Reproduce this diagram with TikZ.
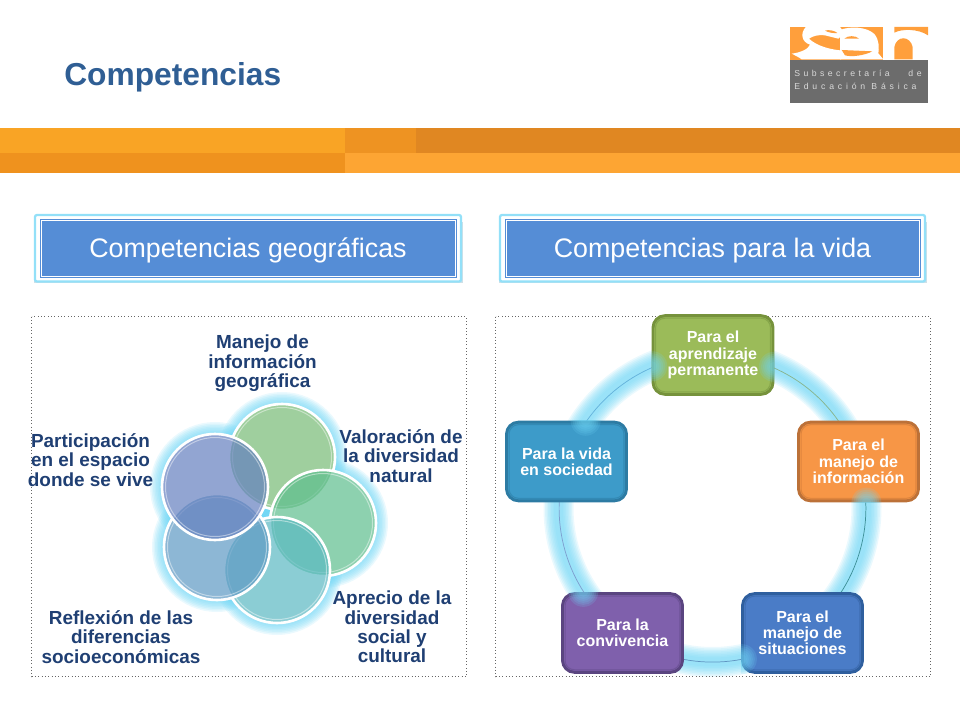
\documentclass[tikz,border=0pt]{standalone}
\usepackage{fontspec}
\setmainfont{Liberation Sans}
\usetikzlibrary{calc,backgrounds}
\definecolor{bandA}{HTML}{F9A425}
\definecolor{bandB}{HTML}{EE9322}
\definecolor{bandC}{HTML}{E08722}
\definecolor{bandD}{HTML}{EF921E}
\definecolor{bandE}{HTML}{FDA533}
\definecolor{titleblue}{HTML}{2F5E94}
\definecolor{labelblue}{HTML}{1F3F73}
\definecolor{headblue}{HTML}{558DD6}
\definecolor{glowc}{HTML}{6FD6F5}
\definecolor{logoor}{HTML}{FF9F3C}
\definecolor{logogr}{HTML}{6C6C6C}
\definecolor{cA}{HTML}{77BC75}
\definecolor{cB}{HTML}{5DBE8E}
\definecolor{cC}{HTML}{5BB9C2}
\definecolor{cD}{HTML}{5E99C4}
\definecolor{cE}{HTML}{6480BF}
\definecolor{bxA}{HTML}{9BBB59}\definecolor{bxAd}{HTML}{76923C}\definecolor{bxAm}{HTML}{86A64A}
\definecolor{bxB}{HTML}{F79646}\definecolor{bxBd}{HTML}{BC7138}\definecolor{bxBm}{HTML}{DF853D}
\definecolor{bxC}{HTML}{4A7CC7}\definecolor{bxCd}{HTML}{2F5F9E}\definecolor{bxCm}{HTML}{3E6DB2}
\definecolor{bxD}{HTML}{7F60AC}\definecolor{bxDd}{HTML}{5A4580}\definecolor{bxDm}{HTML}{6E5398}
\definecolor{bxE}{HTML}{3D9BC9}\definecolor{bxEd}{HTML}{2D7BA3}\definecolor{bxEm}{HTML}{338AB5}
\tikzset{
  x=.75pt,y=-.75pt,
  panel/.style={draw=black!60,line width=.5pt,dotted},
  lbl/.style={font=\fontsize{14.2}{14.6}\selectfont\bfseries,text=labelblue,align=center,inner sep=0pt},
  headtext/.style={font=\fontsize{20.1}{24}\selectfont,text=white,inner sep=0pt},
  logotext/.style={font=\fontsize{6.5}{7}\selectfont,text=white!85!black,anchor=base west,inner sep=0pt},
  cyclebox/.style={rounded corners=9pt,minimum width=90pt,minimum height=59pt,line width=2.2pt,
    font=\fontsize{12}{12.2}\selectfont\bfseries,text=white,align=center,inner sep=0pt},
  innerline/.style={rounded corners=7pt,line width=.8pt},
  cycleline/.style={line width=.55pt,opacity=.6,bend left=36,looseness=.94},
}
\newcommand{\softglow}[2]{%
  \foreach \w in {#2}{\draw[glowc,opacity=.14,line width=\w*.75pt] #1;}}
\newcommand{\cyc}[7]{% name x y fill dark mid text
  \node[cyclebox,fill=#4,draw=#5] (#1) at (#2,#3) {#7};
  \draw[innerline,draw=#6] ($(#1.north west)+(4,4)$) rectangle ($(#1.south east)+(-4,-4)$);}
\newcommand{\circlefill}[4]{%
  \node[circle,minimum size=106*.75pt,inner sep=0pt,fill=#4,fill opacity=.7] (#1) at (#2,#3) {};
  \draw[white,line width=2.6*.75pt] (#2,#3) circle[radius=53];
  \draw[white,opacity=.45,line width=.75pt] (#2,#3) circle[radius=49.5];}
\newcommand{\arcglow}[2]{%
  \softglow{(712.5,508)++(#1:154) arc[start angle=#1,end angle=#2,radius=154]}{30,27,24,21,18,15,12,9}}
\newcommand{\boxpatch}[2]{%
  \begin{scope}
    \clip (#1.south west) rectangle (#1.north east);
    \foreach \r in {15,13,11,9,7,5}{\fill[glowc,opacity=.17] (712.5,508)++(#2:154) circle[radius=\r];}
  \end{scope}}
\begin{document}
\begin{tikzpicture}
\useasboundingbox (0,0) rectangle (960,720);
% band
\fill[bandA] (0,128) rectangle (345,153);
\fill[bandB] (345,128) rectangle (416,153);
\fill[bandC] (416,128) rectangle (960,153);
\fill[bandD] (0,153) rectangle (345,173);
\fill[bandE] (345,153) rectangle (960,173);
% title
\node[font=\fontsize{23.8}{28}\selectfont\bfseries,text=titleblue,anchor=base west,inner sep=0pt] (title) at (64,86) {Competencias};
% logo
\fill[logoor] (790,27) rectangle (883,60);
\fill[logogr] (790,60.5) rectangle (928,103);
\begin{scope}[shift={(785,22)},x=.25pt,y=-.25pt]
  \fill[white] (62,15) -- (165,15) .. controls (178,25) and (172,42) .. (160,50) -- (120,40) .. controls (95,38) and (85,42) .. (72,50) .. controls (95,72) and (135,82) .. (165,85) -- (168,112) -- (50,112) .. controls (40,105) and (30,100) .. (20,95) .. controls (45,92) and (70,82) .. (75,68) .. controls (50,60) and (45,35) .. (62,15) -- cycle;
  \fill[white] (165,24) .. controls (195,12) and (245,14) .. (268,36) .. controls (284,55) and (282,80) .. (280,94) -- (295,112) -- (165,112) -- cycle;
  \fill[logoor] (120,26) .. controls (130,22) and (150,26) .. (157,33) .. controls (145,34) and (130,32) .. (120,26) -- cycle;
  \fill[logoor] (178,50) .. controls (188,40) and (212,40) .. (222,50) -- cycle;
  \fill[logoor] (170,84) -- (262,88) .. controls (240,100) and (200,106) .. (180,100) -- cycle;
  \fill[logoor] (328,15) -- (429,15) -- (429,40) .. controls (400,20) and (350,20) .. (328,32) -- cycle;
  \fill[logoor] (328,112) -- (328,75) .. controls (335,40) and (375,40) .. (383,75) -- (383,112) -- cycle;
\end{scope}
\node[logotext] (logoa) at (794,77) {\addfontfeature{LetterSpace=40}Subsecretaría\hspace{14pt}de};
\node[logotext] (logob) at (794,90) {\addfontfeature{LetterSpace=44}Educación Básica};
% headers
\foreach \xa/\xb in {35/461,500/925}{
  \fill[black!45!cyan!40!white,opacity=.55] (\xa-1,222) rectangle (\xb+1.5,283.5);
  \draw[glowc!75!white,line width=1.7pt,rounded corners=1.5pt,fill=white] (\xa,215) rectangle (\xb,281.5);
  \fill[headblue] (\xa+4.5,219) rectangle (\xb-4,278);
  \draw[white,line width=.5pt] (\xa+6,220.5) rectangle (\xb-5.5,276.5);
}
\node[headtext] (heada) at (248,250.5) {Competencias geográficas};
\node[headtext] (headb) at (712.5,250.5) {Competencias para la vida};
% panels
\draw[panel] (31.5,316.5) rectangle (466.5,676.5);
\draw[panel] (495.5,316.5) rectangle (930.5,676.5);
% left diagram
\foreach \x/\y in {282/457,323/523,277/570,217/547,215/487}{
  \softglow{(\x,\y) circle[radius=54]}{22,19,16,13,10,7,4}
}
\foreach \x/\y in {282/457,323/523,277/570,217/547,215/487}{
  \fill[white] (\x,\y) circle[radius=54];
}
\circlefill{ca}{282}{457}{cA}
\circlefill{cb}{323}{523}{cB}
\circlefill{cc}{277}{570}{cC}
\circlefill{cd}{217}{547}{cD}
\circlefill{ce}{215}{487}{cE}
\node[lbl] (la) at (262.5,363.5) {Manejo de\\información\\geográfica};
\node[lbl] (lb) at (401,456) {Valoración de\\la diversidad\\natural};
\node[lbl] (lc) at (392,627) {Aprecio de la\\diversidad\\social y\\cultural};
\node[lbl] (ld) at (121,637) {Reflexión de las\\diferencias\\socioeconómicas};
\node[lbl] (le) at (90.5,460) {Participación\\en el espacio\\donde se vive};
% right diagram
\cyc{ba}{713}{355}{bxA}{bxAd}{bxAm}{Para el\\aprendizaje\\permanente}
\cyc{bb}{858.5}{461.5}{bxB}{bxBd}{bxBm}{Para el\\manejo de\\información}
\cyc{bc}{802.5}{633}{bxC}{bxCd}{bxCm}{Para el\\manejo de\\situaciones}
\cyc{bd}{622.5}{633}{bxD}{bxDd}{bxDm}{Para la\\convivencia}
\cyc{be}{566.5}{461.5}{bxE}{bxEd}{bxEm}{Para la vida\\en sociedad}
\begin{scope}[on background layer]
  \arcglow{-75}{-25}
  \arcglow{-12}{40}
  \arcglow{68}{108}
  \arcglow{135}{190}
  \arcglow{205}{255}
  \draw[cycleline,draw=bxA!80!black] (ba.center) to (bb.center);
  \draw[cycleline,draw=teal!70!black] (bb.center) to (bc.center);
  \draw[cycleline,draw=bxC!80!black] (bc.center) to (bd.center);
  \draw[cycleline,draw=bxD!70!bxE] (bd.center) to (be.center);
  \draw[cycleline,draw=bxE!70!bxC] (be.center) to (ba.center);
\end{scope}
\boxpatch{ba}{-66.5}
\boxpatch{ba}{247}
\boxpatch{bb}{-2}
\boxpatch{bc}{79}
\boxpatch{bd}{147}
\boxpatch{be}{214.5}
\end{tikzpicture}
\end{document}
